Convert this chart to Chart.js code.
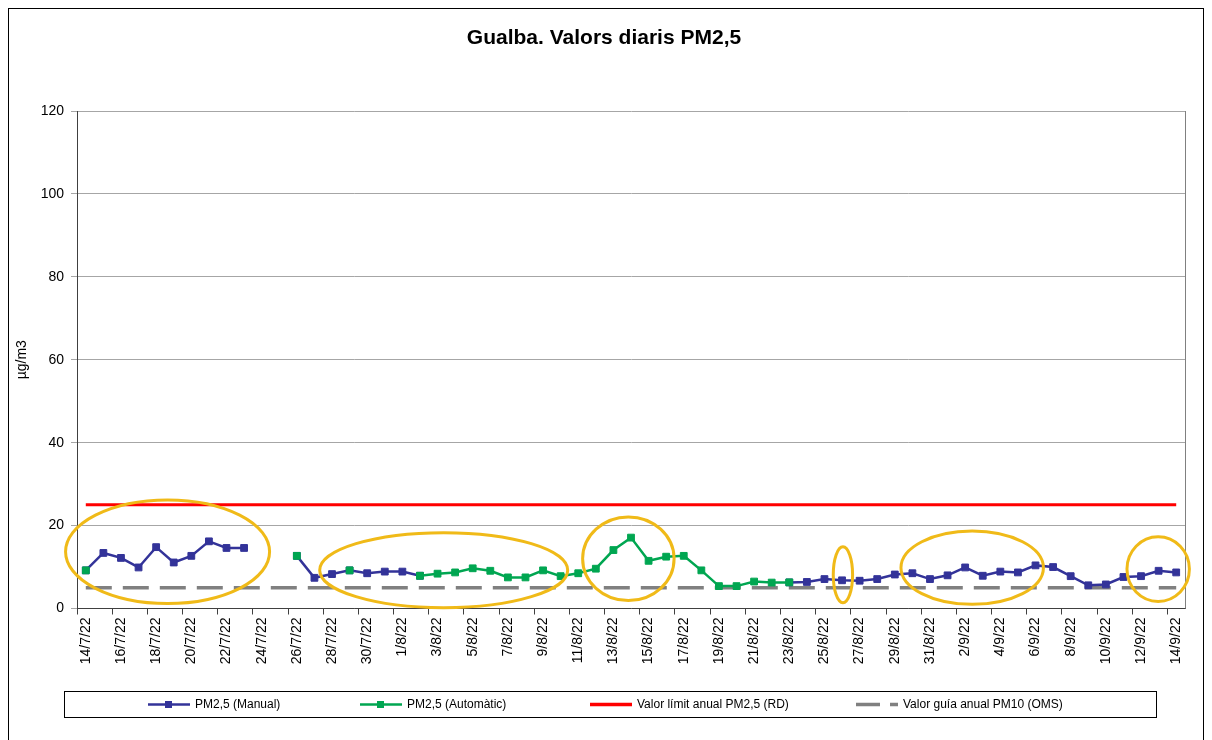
<!DOCTYPE html>
<html>
<head>
<meta charset="utf-8">
<script src="https://cdn.jsdelivr.net/npm/chart.js@4.4.1/dist/chart.umd.min.js"></script>
<style>
  html, body { margin: 0; background: #fff; }
  #wrap { width: 1212px; height: 740px; position: relative; }
</style>
</head>
<body>
<div id="wrap"><canvas id="pmChart" width="1212" height="740"></canvas></div>
<script>
// daily categories
const labels = [
  '14/7/22','15/7/22','16/7/22','17/7/22','18/7/22','19/7/22','20/7/22','21/7/22','22/7/22','23/7/22',
  '24/7/22','25/7/22','26/7/22','27/7/22','28/7/22','29/7/22','30/7/22','31/7/22',
  '1/8/22','2/8/22','3/8/22','4/8/22','5/8/22','6/8/22','7/8/22','8/8/22','9/8/22','10/8/22',
  '11/8/22','12/8/22','13/8/22','14/8/22','15/8/22','16/8/22','17/8/22','18/8/22','19/8/22','20/8/22',
  '21/8/22','22/8/22','23/8/22','24/8/22','25/8/22','26/8/22','27/8/22','28/8/22','29/8/22','30/8/22','31/8/22',
  '1/9/22','2/9/22','3/9/22','4/9/22','5/9/22','6/9/22','7/9/22','8/9/22','9/9/22','10/9/22',
  '11/9/22','12/9/22','13/9/22','14/9/22'
];

// PM2,5 (Manual), µg/m3
const manual = [
  9.2, 13.4, 12.2, 9.9, 14.8, 11.1, 12.7, 16.2, 14.6, 14.6,   // 14/7 - 23/7
  null, null,                                                 // 24/7 - 25/7
  12.7, 7.4, 8.3, 9.2, 8.5, 8.9, 8.9, 7.9,                    // 26/7 - 2/8
  null, null, null, null, null, null, null, null, null, null, // 3/8 - 12/8
  null, null, null, null, null, null, null, null, null, null, // 13/8 - 22/8
  6.3, 6.4, 7.1, 6.8, 6.7, 7.1, 8.2, 8.5, 7.1, 8.0,           // 23/8 - 1/9
  9.9, 7.9, 8.9, 8.7, 10.4, 10.0, 7.8, 5.6, 5.8, 7.6,         // 2/9 - 11/9
  7.8, 9.1, 8.7                                               // 12/9 - 14/9
];

// PM2,5 (Automàtic), µg/m3
const automatic = [
  9.2, null, null, null, null, null, null, null, null, null,  // 14/7 - 23/7
  null, null,                                                 // 24/7 - 25/7
  12.7, null, null, 9.2, null, null, null, 7.9,               // 26/7 - 2/8
  8.4, 8.7, 9.7, 9.1, 7.5, 7.5, 9.2, 7.8, 8.5, 9.6,           // 3/8 - 12/8
  14.1, 17.1, 11.5, 12.5, 12.7, 9.2, 5.4, 5.4, 6.5, 6.25,     // 13/8 - 22/8
  6.3, null, null, null, null, null, null, null, null, null,  // 23/8 - 1/9
  null, null, null, null, null, null, null, null, null, null, // 2/9 - 11/9
  null, null, null                                            // 12/9 - 14/9
];

const limitRD = 25;   // Valor límit anual PM2,5 (RD)
const guideOMS = 5;   // Valor guía anual PM10 (OMS)
const yTicks = [0, 20, 40, 60, 80, 100, 120];

// highlighted zones (category index range, value range)
const highlights = [
  { from: -1.15, to: 10.45, low: 1.2, high: 26.2 },
  { from: 13.3,  to: 27.4,  low: 0.2, high: 18.3 },
  { from: 28.25, to: 33.45, low: 1.9, high: 22.1 },
  { from: 42.5,  to: 43.6,  low: 1.4, high: 14.9 },
  { from: 46.35, to: 54.45, low: 1.0, high: 18.7 },
  { from: 59.2,  to: 62.75, low: 1.7, high: 17.3 }
];

const BLUE = '#333399';
const GREEN = '#00A651';
const RED = '#FF0000';
const GREY = '#808080';
const GOLD = '#F0BA18';
const FONT = 'Arial, "Liberation Sans", sans-serif';

const framePlugin = {
  id: 'frame',
  beforeDraw (chart) {
    const ctx = chart.ctx;
    ctx.save();
    ctx.fillStyle = '#fff';
    ctx.fillRect(0, 0, chart.width, chart.height);
    ctx.strokeStyle = '#000';
    ctx.lineWidth = 1;
    ctx.strokeRect(8.5, 8.5, 1195, 800);
    ctx.restore();
  },
  afterDatasetsDraw (chart) {
    const ctx = chart.ctx;
    const a = chart.chartArea;
    const x = chart.scales.x, y = chart.scales.y;
    ctx.save();
    // right edge of plot
    ctx.strokeStyle = GREY;
    ctx.lineWidth = 1;
    ctx.beginPath();
    ctx.moveTo(Math.round(a.right) + 0.5, a.top);
    ctx.lineTo(Math.round(a.right) + 0.5, a.bottom);
    ctx.stroke();
    // highlight ellipses
    ctx.strokeStyle = GOLD;
    ctx.lineWidth = 3;
    highlights.forEach(h => {
      const x1 = x.getPixelForValue(h.from), x2 = x.getPixelForValue(h.to);
      const y1 = y.getPixelForValue(h.high), y2 = y.getPixelForValue(h.low);
      ctx.beginPath();
      ctx.ellipse((x1 + x2) / 2, (y1 + y2) / 2, Math.abs(x2 - x1) / 2, Math.abs(y2 - y1) / 2, 0, 0, Math.PI * 2);
      ctx.stroke();
    });
    ctx.restore();
  },
  afterDraw (chart) {
    const ctx = chart.ctx;
    ctx.save();
    // title
    ctx.fillStyle = '#000';
    ctx.font = 'bold 21px ' + FONT;
    ctx.textAlign = 'center';
    ctx.textBaseline = 'middle';
    ctx.fillText('Gualba. Valors diaris PM2,5', 604, 38);
    // legend box
    ctx.textAlign = 'left';
    ctx.strokeStyle = '#000';
    ctx.lineWidth = 1;
    ctx.strokeRect(64.5, 691.5, 1092, 26);
    const cy = 704.5;
    const items = [
      { x: 148, text: 'PM2,5 (Manual)', color: BLUE, width: 2.5, marker: true },
      { x: 360, text: 'PM2,5 (Automàtic)', color: GREEN, width: 2.5, marker: true },
      { x: 590, text: 'Valor límit anual PM2,5 (RD)', color: RED, width: 3.5 },
      { x: 856, text: 'Valor guía anual PM10 (OMS)', color: GREY, width: 3.5, dash: [24, 10] }
    ];
    ctx.font = '12px ' + FONT;
    items.forEach(it => {
      ctx.strokeStyle = it.color;
      ctx.lineWidth = it.width;
      ctx.setLineDash(it.dash || []);
      ctx.beginPath();
      ctx.moveTo(it.x, cy);
      ctx.lineTo(it.x + 42, cy);
      ctx.stroke();
      ctx.setLineDash([]);
      if (it.marker) {
        ctx.fillStyle = it.color;
        ctx.fillRect(it.x + 17, cy - 3.5, 7, 7);
      }
      ctx.fillStyle = '#000';
      ctx.fillText(it.text, it.x + 47, cy);
    });
    ctx.restore();
  }
};

new Chart(document.getElementById('pmChart').getContext('2d'), {
  type: 'line',
  data: {
    labels: labels,
    datasets: [
      {
        label: 'PM2,5 (Automàtic)',
        data: automatic,
        borderColor: GREEN,
        backgroundColor: GREEN,
        borderWidth: 2.5,
        pointStyle: 'rect',
        pointRadius: 4.8,
        pointBorderWidth: 1,
        spanGaps: false,
        order: 0
      },
      {
        label: 'PM2,5 (Manual)',
        data: manual,
        borderColor: BLUE,
        backgroundColor: BLUE,
        borderWidth: 2.5,
        pointStyle: 'rect',
        pointRadius: 4.8,
        pointBorderWidth: 1,
        spanGaps: false,
        order: 1
      },
      {
        label: 'Valor límit anual PM2,5 (RD)',
        data: [{ x: labels[0], y: limitRD }, { x: labels[labels.length - 1], y: limitRD }],
        borderColor: RED,
        borderWidth: 3,
        pointRadius: 0,
        order: 2
      },
      {
        label: 'Valor guía anual PM10 (OMS)',
        data: [{ x: labels[0], y: guideOMS }, { x: labels[labels.length - 1], y: guideOMS }],
        borderColor: GREY,
        borderWidth: 3.5,
        borderDash: [26, 11],
        pointRadius: 0,
        order: 3
      }
    ]
  },
  options: {
    responsive: false,
    animation: false,
    devicePixelRatio: 1,
    layout: { padding: { left: 8, right: 27, top: 111, bottom: 51.5 } },
    plugins: {
      legend: { display: false },
      tooltip: { enabled: false },
      title: { display: false }
    },
    scales: {
      x: {
        type: 'category',
        offset: true,
        afterFit (scale) { scale.height = 80; },
        grid: {
          offset: true,
          drawOnChartArea: false,
          drawTicks: true,
          tickLength: 6,
          color: ctx => (ctx.index % 2 === 0 ? '#404040' : 'rgba(0,0,0,0)')
        },
        border: { color: '#404040', width: 1 },
        ticks: {
          autoSkip: false,
          minRotation: 90,
          maxRotation: 90,
          padding: 3,
          color: '#000',
          font: { family: FONT, size: 14 },
          callback: (v, i) => (i % 2 === 0 ? labels[i] : '')
        }
      },
      y: {
        min: 0,
        max: 120,
        afterFit (scale) { scale.width = 69; },
        afterBuildTicks (scale) { scale.ticks = yTicks.map(v => ({ value: v })); },
        grid: { color: '#A6A6A6', lineWidth: 1, tickLength: 6 },
        border: { color: '#404040', width: 1 },
        ticks: { color: '#000', padding: 7, font: { family: FONT, size: 14 } },
        title: {
          display: true,
          text: 'µg/m3',
          color: '#000',
          font: { family: FONT, size: 14 },
          padding: { top: 6, bottom: 0 }
        }
      }
    }
  },
  plugins: [framePlugin]
});
</script>
</body>
</html>
